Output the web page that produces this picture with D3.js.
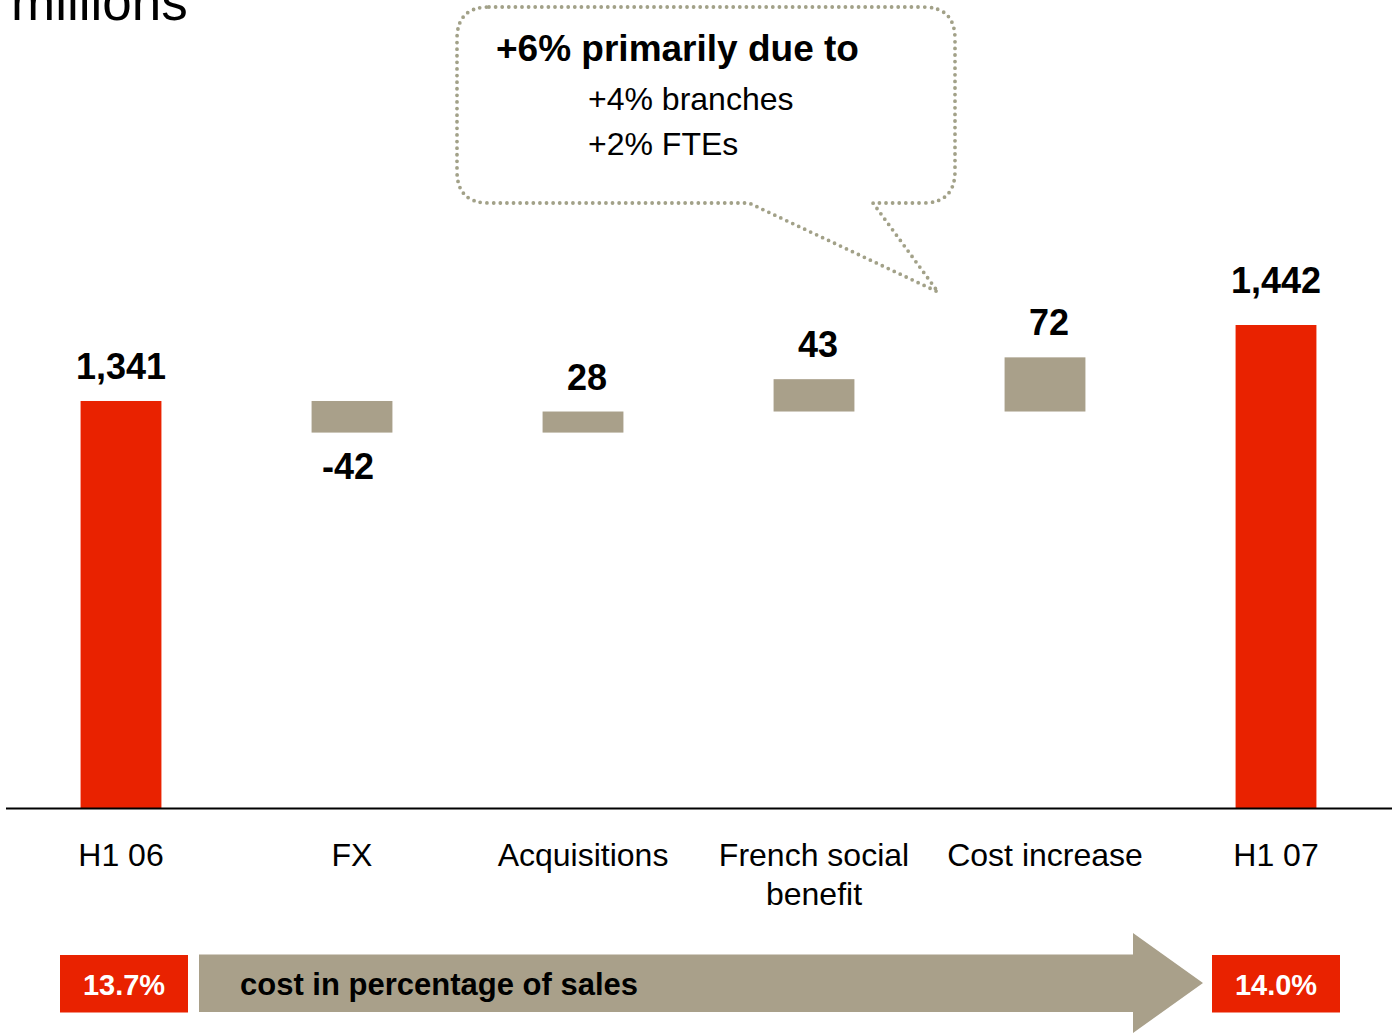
<!DOCTYPE html>
<html>
<head>
<meta charset="utf-8">
<script src="https://cdn.jsdelivr.net/npm/d3@7"></script>
<style>
  body { margin: 0; background: #fff; }
  text { font-family: "Liberation Sans", Arial, sans-serif; }
</style>
</head>
<body>
<script>
// chart data
var categories = ["H1 06", "FX", "Acquisitions", "French social\nbenefit", "Cost increase", "H1 07"];
var values = [1341, -42, 28, 43, 72, 1442];
var isTotal = [true, false, false, false, false, true];
// where each floating bar starts, as drawn in the original
var barBase = [800, 1341, 1299, 1327, 1327, 800];
var pctLabels = ["13.7%", "14.0%"];
var calloutTitle = "+6% primarily due to";
var calloutLines = ["+4% branches", "+2% FTEs"];

var width = 1392, height = 1035;
var red = "#e92200", tan = "#a9a08a", dots = "#a2a188";

var svg = d3.select("body").append("svg")
    .attr("width", width)
    .attr("height", height);

// set the ranges
var x = d3.scaleBand()
    .domain(categories)
    .range([5.5, 1391.5])
    .paddingInner(0.65)
    .paddingOuter(0.325);
var y = d3.scaleLinear()
    .domain([800, 1442])
    .range([808, 325]);

// title fragment, cut off at the top
svg.append("text")
    .attr("x", 11)
    .attr("y", 20)
    .style("font-size", "53px")
    .text("millions");

// bars
var bars = categories.map(function(c, i) {
  var lo = isTotal[i] ? y.domain()[0] : barBase[i];
  var hi = isTotal[i] ? values[i] : barBase[i] + values[i];
  return {cat: c, v: values[i], total: isTotal[i], y0: Math.min(lo, hi), y1: Math.max(lo, hi)};
});

svg.selectAll(".bar")
    .data(bars)
  .enter().append("rect")
    .attr("class", "bar")
    .attr("x", function(d) { return x(d.cat); })
    .attr("width", x.bandwidth())
    .attr("y", function(d) { return y(d.y1); })
    .attr("height", function(d) { return y(d.y0) - y(d.y1); })
    .attr("fill", function(d) { return d.total ? red : tan; });

// value labels
var fmt = d3.format(",");
svg.selectAll(".val")
    .data(bars)
  .enter().append("text")
    .attr("class", "val")
    .attr("x", function(d) {
      var cx = x(d.cat) + x.bandwidth() / 2;
      if (d.total) return cx;
      return cx + (d.v < 0 ? -4 : 4);
    })
    .attr("y", function(d, i) {
      if (d.v < 0) return y(d.y0) + 46;
      return y(d.y1) - (i === bars.length - 1 ? 32 : 22);
    })
    .attr("text-anchor", "middle")
    .style("font-size", "36px")
    .style("font-weight", "bold")
    .text(function(d) { return fmt(d.v).replace("\u2212", "-"); });

// x axis
var axis = svg.append("g")
    .attr("transform", "translate(0,808)")
    .call(d3.axisBottom(x).tickSize(0).tickSizeOuter(0));
axis.select(".domain").attr("stroke", "#000").attr("stroke-width", 2);
axis.selectAll(".tick text").each(function(d) {
  var t = d3.select(this).text(null)
      .attr("y", 58).attr("dy", null)
      .attr("fill", "#000")
      .style("font-size", "32px")
      .style("font-family", "'Liberation Sans', Arial, sans-serif");
  d.split("\n").forEach(function(line, k) {
    t.append("tspan").attr("x", 0).attr("dy", k ? 39 : 0).text(line);
  });
});

// callout bubble
var L = 457, R = 955, T = 7, B = 203, r = 32;
var p = d3.path();
p.moveTo(L + r, T);
p.lineTo(R - r, T);
p.quadraticCurveTo(R, T, R, T + r);
p.lineTo(R, B - r);
p.quadraticCurveTo(R, B, R - r, B);
p.lineTo(873, B);
p.lineTo(938, 292);
p.lineTo(749, B);
p.lineTo(L + r, B);
p.quadraticCurveTo(L, B, L, B - r);
p.lineTo(L, T + r);
p.quadraticCurveTo(L, T, L + r, T);
p.closePath();
svg.append("path")
    .attr("d", p.toString())
    .attr("fill", "none")
    .attr("stroke", dots)
    .attr("stroke-width", 3.8)
    .attr("stroke-linecap", "round")
    .attr("stroke-dasharray", "0 6.6");

svg.append("text")
    .attr("x", 496)
    .attr("y", 61)
    .style("font-size", "37px")
    .style("font-weight", "bold")
    .text(calloutTitle);
svg.selectAll(".cl")
    .data(calloutLines)
  .enter().append("text")
    .attr("class", "cl")
    .attr("x", 588)
    .attr("y", function(d, i) { return 110 + i * 45; })
    .style("font-size", "32px")
    .text(function(d) { return d; });

// cost in percentage of sales arrow
svg.append("polygon")
    .attr("points", [[199, 954.5], [1133, 954.5], [1133, 933], [1203, 983],
                     [1133, 1033], [1133, 1012], [199, 1012]].join(" "))
    .attr("fill", tan);
svg.append("text")
    .attr("x", 240)
    .attr("y", 995)
    .style("font-size", "31px")
    .style("font-weight", "bold")
    .text("cost in percentage of sales");

var ends = [categories[0], categories[categories.length - 1]];
var boxes = svg.selectAll(".pct")
    .data(pctLabels)
  .enter().append("g")
    .attr("class", "pct")
    .attr("transform", function(d, i) {
      return "translate(" + (x(ends[i]) + x.bandwidth() / 2 + (i ? 0 : 3)) + ",0)";
    });
boxes.append("rect")
    .attr("x", -64).attr("y", 955)
    .attr("width", 128).attr("height", 57.5)
    .attr("fill", red);
boxes.append("text")
    .attr("x", 0).attr("y", 995)
    .attr("text-anchor", "middle")
    .attr("fill", "#fff")
    .style("font-size", "29px")
    .style("font-weight", "bold")
    .text(function(d) { return d; });
</script>
</body>
</html>
